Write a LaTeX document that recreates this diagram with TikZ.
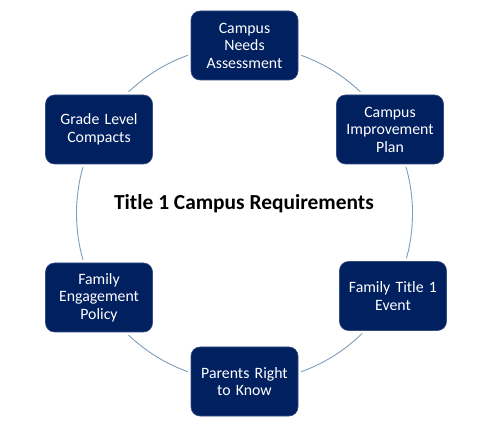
\documentclass[tikz,border=0pt]{standalone}
\usepackage{fontspec}
\setmainfont{Carlito}
\usetikzlibrary{calc}
\definecolor{navy}{HTML}{002060}
\definecolor{ringblue}{HTML}{7F9DB9}
\begin{document}
\begin{tikzpicture}[x=1pt,y=1pt,
  box/.style={fill=navy, draw=navy!80!white, line width=0.6pt, rounded corners=9pt,
    minimum width=107pt, minimum height=69pt, text width=104pt, inner xsep=1pt, align=center,
    text=white, font=\fontsize{15.8}{17.5}\selectfont,
    preaction={draw=white, line width=6pt}},
  ringstyle/.style={draw=ringblue, line width=0.9pt, circle, minimum size=336pt, inner sep=0pt}
]
\useasboundingbox (0,0) rectangle (500,428);
\coordinate (c) at (244.5,214.5);
\node[ringstyle] (ring) at (c) {};
\node[box] (cna) at ($(c)+(90:168)$) {Campus\\Needs\\Assessment};
\node[box] (cip) at ($(c)+(30:168)$) {Campus\\Improvement\\Plan};
\node[box] (fte) at ($(c)+(-30:168)+(3,1.5)$) {Family Title 1\\Event};
\node[box] (prk) at ($(c)+(-90:168)$) {Parents Right\\to Know};
\node[box] (fep) at ($(c)+(-150:168)$) {Family\\Engagement\\Policy};
\node[box] (glc) at ($(c)+(150:168)$) {Grade Level\\Compacts};
\node[font=\bfseries\fontsize{21.4}{25}\selectfont] (title) at (244,224.5) {Title 1 Campus Requirements};
\end{tikzpicture}
\end{document}
